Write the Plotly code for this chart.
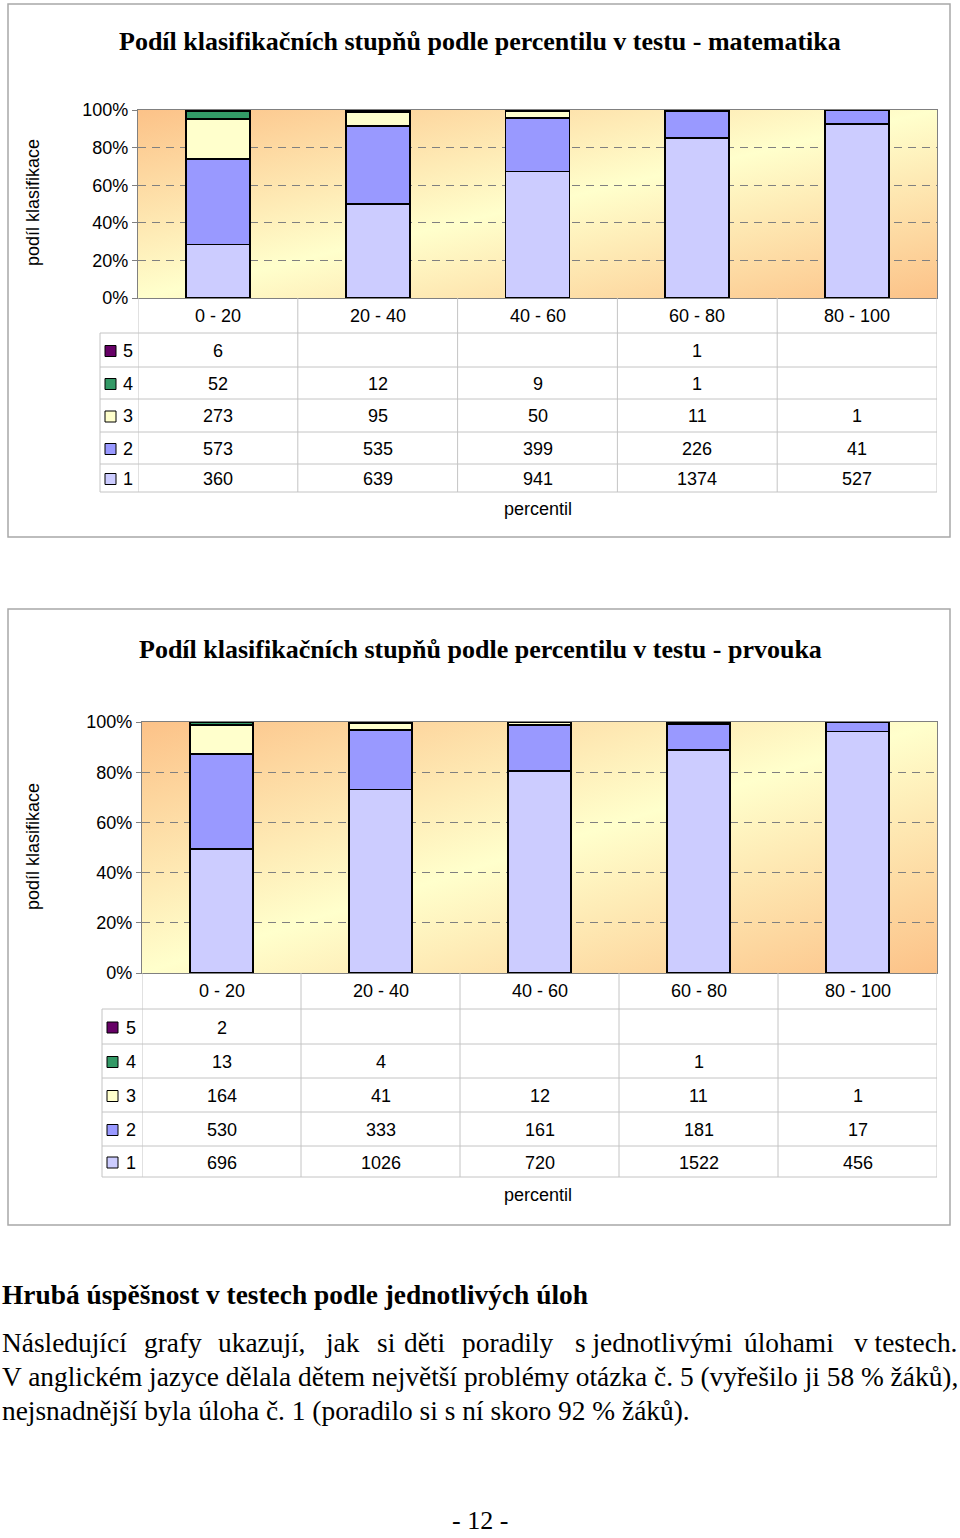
import base64
import plotly.graph_objects as go

W, H = 960, 1538

percentil = ["0 - 20", "20 - 40", "40 - 60", "60 - 80", "80 - 100"]
stupne = ["1", "2", "3", "4", "5"]
barvy = ["#CCCCFF", "#9999FF", "#FFFFCC", "#339966", "#660066"]

# matematika - pocty zaku podle stupne (1..5)
mat_1 = [360, 639, 941, 1374, 527]
mat_2 = [573, 535, 399, 226, 41]
mat_3 = [273, 95, 50, 11, 1]
mat_4 = [52, 12, 9, 1, None]
mat_5 = [6, None, None, 1, None]

# prvouka
prv_1 = [696, 1026, 720, 1522, 456]
prv_2 = [530, 333, 161, 181, 17]
prv_3 = [164, 41, 12, 11, 1]
prv_4 = [13, 4, None, 1, None]
prv_5 = [2, None, None, None, None]

y_ticks = [0, 20, 40, 60, 80, 100]
y_labels = ["0%", "20%", "40%", "60%", "80%", "100%"]


def fx(p):
    return p / W


def fy(p):
    return 1 - p / H


SANS = "Liberation Sans, Arial, sans-serif"
SERIF = "Liberation Serif, Times New Roman, serif"
GRID = "#808080"
TABLE = "#C4C4C4"

svg = (
    '<svg xmlns="http://www.w3.org/2000/svg" width="100" height="100" '
    'viewBox="0 0 100 100" preserveAspectRatio="none"><defs>'
    '<linearGradient id="g" x1="0" y1="0" x2="1" y2="1">'
    '<stop offset="0" stop-color="#FCC288"/>'
    '<stop offset="0.5" stop-color="#FFFFCC"/>'
    '<stop offset="1" stop-color="#FCC288"/>'
    '</linearGradient></defs>'
    '<rect width="100" height="100" fill="url(#g)"/></svg>'
)
gradient = "data:image/svg+xml;base64," + base64.b64encode(svg.encode()).decode()

fig = go.Figure()
shapes, annotations, images = [], [], []


def text(t, x, y, size=18, family=SANS, xanchor="center", xref="paper", **kw):
    annotations.append(dict(text=t, x=x, y=y, xref=xref, yref="paper", showarrow=False,
                            xanchor=xanchor, yanchor="middle",
                            font=dict(family=family, size=size, color="black"), **kw))


charts = [
    dict(title="Podíl klasifikačních stupňů podle percentilu v testu - matematika",
         rows=[mat_1, mat_2, mat_3, mat_4, mat_5], ax="", box=(8, 4, 950, 537),
         title_y=41, left=138, right=937, top=110, bottom=298,
         row_lines=[333, 367, 399, 432, 464, 492], table_left=100,
         key_x=105, label_x=121, ylab_y=203, perc_y=509),
    dict(title="Podíl klasifikačních stupňů podle percentilu v testu - prvouka",
         rows=[prv_1, prv_2, prv_3, prv_4, prv_5], ax="2", box=(8, 609, 950, 1225),
         title_y=649, left=142, right=937, top=722, bottom=973,
         row_lines=[1009, 1044, 1078, 1112, 1146, 1177], table_left=102,
         key_x=107, label_x=124, ylab_y=847, perc_y=1195),
]

for ch in charts:
    xa, ya = "x" + ch["ax"], "y" + ch["ax"]
    for i, vals in enumerate(ch["rows"]):
        fig.add_trace(go.Bar(
            x=percentil, y=vals, name=stupne[i], xaxis=xa, yaxis=ya,
            marker=dict(color=barvy[i], line=dict(color="black", width=1.8)),
            showlegend=False,
        ))

    fig.update_layout({
        "xaxis" + ch["ax"]: dict(
            domain=[fx(ch["left"]), fx(ch["right"])], anchor=ya, range=[-0.5, 4.5],
            showticklabels=False, ticks="", showgrid=False, showline=True,
            linecolor=GRID, linewidth=1.2, mirror=True, automargin=False),
        "yaxis" + ch["ax"]: dict(
            domain=[fy(ch["bottom"]), fy(ch["top"])], anchor=xa, range=[0, 100],
            tickvals=y_ticks, ticktext=y_labels, showgrid=True, griddash="8px,6px",
            gridcolor=GRID, gridwidth=1, showline=True, linecolor=GRID, linewidth=1.2,
            mirror=True, ticks="outside", ticklen=5, tickcolor=GRID, zeroline=False,
            automargin=False, tickfont=dict(family=SANS, size=18, color="black")),
    })

    images.append(dict(
        source=gradient, xref="paper", yref="paper", x=fx(ch["left"]), y=fy(ch["top"]),
        sizex=(ch["right"] - ch["left"]) / W, sizey=(ch["bottom"] - ch["top"]) / H,
        xanchor="left", yanchor="top", sizing="stretch", layer="below"))

    # ramecek grafu
    x0, y0, x1, y1 = ch["box"]
    shapes.append(dict(type="rect", xref="paper", yref="paper", x0=fx(x0), x1=fx(x1),
                       y0=fy(y0), y1=fy(y1), line=dict(color="#A8A8A8", width=1.5)))

    text("<b>" + ch["title"] + "</b>", fx(480), fy(ch["title_y"]), size=26, family=SERIF)
    text("podíl klasifikace", fx(33), fy(ch["ylab_y"]), textangle=-90)
    text("percentil", fx(538), fy(ch["perc_y"]))

    # tabulka s daty
    rl = ch["row_lines"]
    head_mid = (ch["bottom"] + rl[0]) / 2
    for c in percentil:
        text(c, c, fy(head_mid), xref=xa)
    for y in rl:
        shapes.append(dict(type="line", xref="paper", yref="paper", x0=fx(ch["table_left"]),
                           x1=fx(ch["right"]), y0=fy(y), y1=fy(y), line=dict(color=TABLE, width=1)))
    for k in range(6):
        shapes.append(dict(type="line", xref=xa, yref="paper", x0=k - 0.5, x1=k - 0.5,
                           y0=fy(ch["bottom"]), y1=fy(rl[-1]), line=dict(color=TABLE, width=1)))
    shapes.append(dict(type="line", xref="paper", yref="paper", x0=fx(ch["table_left"]),
                       x1=fx(ch["table_left"]), y0=fy(rl[0]), y1=fy(rl[-1]),
                       line=dict(color=TABLE, width=1)))

    order = [4, 3, 2, 1, 0]
    for r, gi in enumerate(order):
        mid = (rl[r] + rl[r + 1]) / 2 + 1
        shapes.append(dict(type="rect", xref="paper", yref="paper",
                           x0=fx(ch["key_x"]), x1=fx(ch["key_x"] + 11),
                           y0=fy(mid - 5.5), y1=fy(mid + 5.5), fillcolor=barvy[gi],
                           line=dict(color="black", width=1)))
        text(stupne[gi], fx(ch["label_x"]), fy(mid), xanchor="left")
        for c, v in zip(percentil, ch["rows"][gi]):
            if v is None:
                continue
            text(str(v), c, fy(mid), xref=xa)

# text pod grafy
BODY = 27.4
text("<b>Hrubá úspěšnost v testech podle jednotlivých úloh</b>", 0, fy(1295),
     size=BODY, family=SERIF, xanchor="left")
line1 = [("Následující", 0), ("grafy", 142), ("ukazují,", 216), ("jak", 323), ("si", 375),
         ("děti", 402), ("poradily", 460), ("s jednotlivými", 573), ("úlohami", 742)]
for word, px in line1:
    text(word, fx(px), fy(1343), size=BODY, family=SERIF, xanchor="left")
text("v testech.", fx(959), fy(1343), size=BODY, family=SERIF, xanchor="right")
text("V anglickém jazyce dělala dětem největší problémy otázka č. 5 (vyřešilo ji 58 % žáků),",
     0, fy(1377), size=BODY, family=SERIF, xanchor="left")
text("nejsnadnější byla úloha č. 1 (poradilo si s ní skoro 92 % žáků).",
     0, fy(1411), size=BODY, family=SERIF, xanchor="left")
text("- 12 -", fx(480), fy(1520), size=26, family=SERIF)

fig.update_layout(
    width=W, height=H, margin=dict(l=0, r=0, t=0, b=0, pad=0),
    paper_bgcolor="white", plot_bgcolor="rgba(0,0,0,0)",
    barmode="stack", barnorm="percent", bargap=0.6,
    shapes=shapes, annotations=annotations, images=images,
)

fig.write_html("out.html", config={"displayModeBar": False},
               post_script="document.body.style.margin='0px';")
